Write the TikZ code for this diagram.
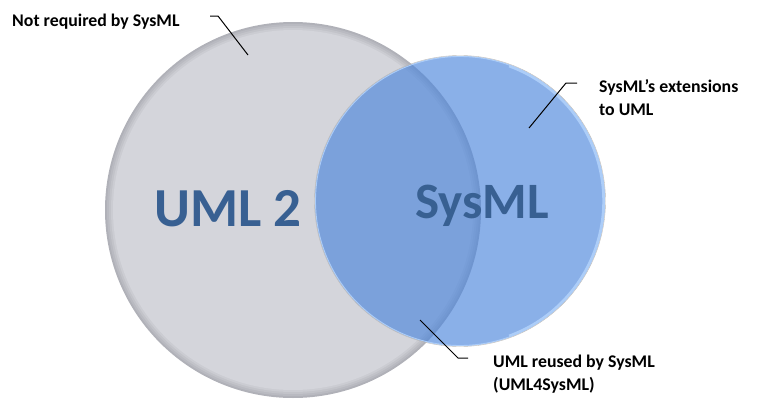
\documentclass[tikz,border=0pt]{standalone}
\usepackage{fontspec}
\setmainfont{Carlito}
\usetikzlibrary{positioning}
\definecolor{umlgray}{RGB}{212,213,219}
\definecolor{umlrim}{RGB}{176,177,184}
\definecolor{sysblue}{RGB}{78,135,220}
\definecolor{sysrim}{RGB}{172,205,248}
\definecolor{bigtext}{RGB}{56,96,146}

\begin{document}
\begin{tikzpicture}[x=1pt,y=-1pt,
            big/.style={font=\bfseries\fontsize{55}{55}\selectfont,text=bigtext,inner sep=0pt,anchor=base},
            lab/.style={font=\bfseries\fontsize{17.8}{23}\selectfont,align=left,inner sep=0pt,anchor=base west},
            leader/.style={draw,black,line width=1pt}
          ]
          \useasboundingbox (0,0) rectangle (758,402);

          %sets
          \foreach \r/\shade in {188/0,186/25,184/50,182/75,180/100}
            \fill[umlgray!\shade!umlrim] (293,210) circle (\r pt);
          \fill[sysblue,fill opacity=.66] (460,201) circle (145pt);
          \draw[sysrim,line width=.9pt] (460,201) circle (144.5pt);
          \draw[sysrim,line width=2.5pt] (460,201) ++(-70:143.5pt) arc (-70:70:143.5pt);
          \draw[gray!55,line width=.4pt] (460,201) circle (145.5pt);

          %set names
          \node[big] (uml) at (228,226) {UML 2};
          \node[big,font=\bfseries\fontsize{51}{51}\selectfont] (sysml) at (482,218) {SysML};

          %labels
          \node[lab] (notreq) at (12,26) {Not required by SysML};
          \node[lab] (ext) at (599,115) {SysML’s extensions\\to UML};
          \node[lab] (reuse) at (493,390) {UML reused by SysML\\(UML4SysML)};

          %leaders
          \coordinate (nr1) at (210,16);
          \coordinate (nr2) at (218,16);
          \coordinate (nr3) at (248,55);
          \coordinate (ex1) at (577,83);
          \coordinate (ex2) at (566,83);
          \coordinate (ex3) at (529,128);
          \coordinate (ru1) at (420,320);
          \coordinate (ru2) at (458,358);
          \coordinate (ru3) at (468,358);
          \path[leader]
          (nr1) -- (nr2) -- (nr3)
          (ex1) -- (ex2) -- (ex3)
          (ru1) -- (ru2) -- (ru3)
          ;

      \end{tikzpicture}
\end{document}
